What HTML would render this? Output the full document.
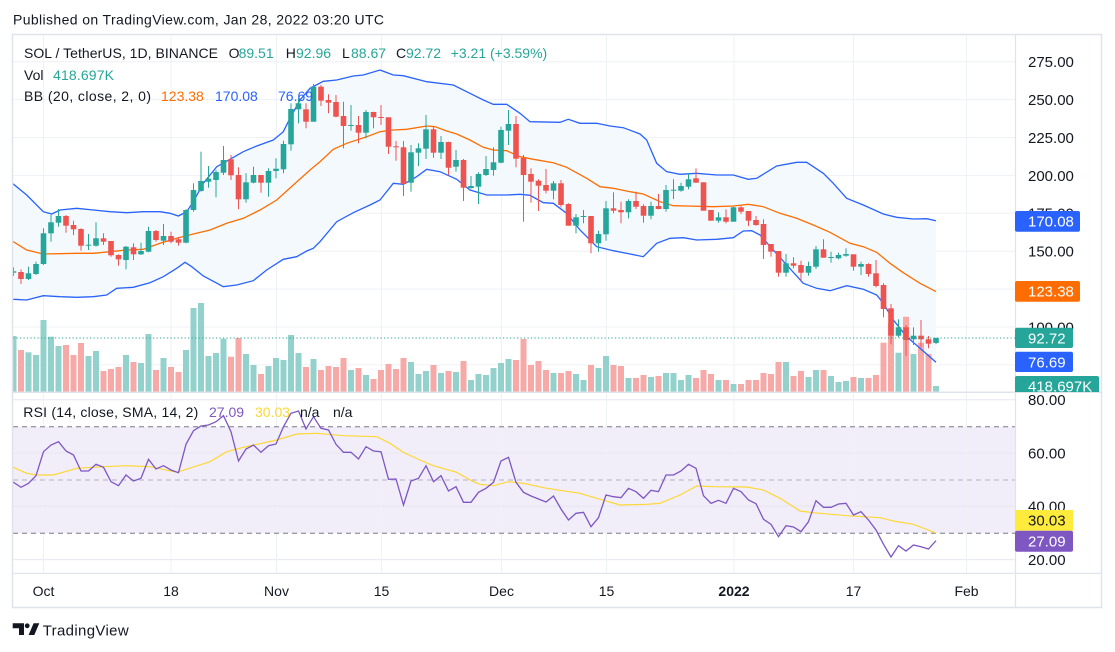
<!DOCTYPE html>
<html><head><meta charset="utf-8">
<style>
html,body{margin:0;padding:0;background:#fff;}
svg{display:block;font-family:"Liberation Sans","DejaVu Sans",sans-serif;}
</style></head>
<body>
<svg id="s" width="1115" height="652" viewBox="0 0 1115 652" xmlns="http://www.w3.org/2000/svg">
<defs>
<clipPath id="cp"><rect x="13" y="35" width="1002" height="357"/></clipPath>
<clipPath id="cr"><rect x="13" y="393" width="1002" height="180"/></clipPath>
</defs>
<rect width="1115" height="652" fill="#fff"/>
<text x="13" y="24.5" font-size="14" fill="#131722" textLength="371">Published on TradingView.com, Jan 28, 2022 03:20 UTC</text>

<g stroke="#EEF1F6" stroke-width="1">
<line x1="13" x2="1015" y1="61.7" y2="61.7"/><line x1="13" x2="1015" y1="99.6" y2="99.6"/>
<line x1="13" x2="1015" y1="137.5" y2="137.5"/><line x1="13" x2="1015" y1="175.4" y2="175.4"/>
<line x1="13" x2="1015" y1="213.3" y2="213.3"/><line x1="13" x2="1015" y1="251.2" y2="251.2"/>
<line x1="13" x2="1015" y1="289.1" y2="289.1"/><line x1="13" x2="1015" y1="327" y2="327"/>
<line x1="13" x2="1015" y1="364.9" y2="364.9"/>
</g>
<rect x="13" y="426.7" width="1002" height="106.6" fill="#F1EDF9"/>
<g stroke="#E8E6F0" stroke-width="1">
<line x1="13" x2="1015" y1="399.7" y2="399.7"/><line x1="13" x2="1015" y1="453" y2="453"/>
<line x1="13" x2="1015" y1="506.3" y2="506.3"/><line x1="13" x2="1015" y1="559.6" y2="559.6"/>
</g>
<g stroke="#EEF1F6" stroke-width="1">
<line x1="43.5" x2="43.5" y1="35" y2="573"/><line x1="171" x2="171" y1="35" y2="573"/>
<line x1="276.5" x2="276.5" y1="35" y2="573"/><line x1="381.5" x2="381.5" y1="35" y2="573"/>
<line x1="501.5" x2="501.5" y1="35" y2="573"/><line x1="606.5" x2="606.5" y1="35" y2="573"/>
<line x1="734" x2="734" y1="35" y2="573"/><line x1="853.5" x2="853.5" y1="35" y2="573"/>
<line x1="966.5" x2="966.5" y1="35" y2="573"/>
</g>
<g stroke="#787B86" stroke-width="1" stroke-dasharray="5 4">
<line x1="13" x2="1015" y1="426.7" y2="426.7"/>
<line x1="13" x2="1015" y1="533.3" y2="533.3"/>
<line x1="13" x2="1015" y1="480" y2="480" stroke-opacity="0.5"/>
</g>

<g id="price" clip-path="url(#cp)"></g>
<g id="rsi" clip-path="url(#cr)"></g>

<rect x="12.5" y="34.5" width="1089" height="573" fill="none" stroke="#E0E3EB" stroke-width="1.5"/>
<line x1="1015.5" x2="1015.5" y1="34.5" y2="607.5" stroke="#E0E3EB" stroke-width="1.2"/>
<line x1="12.5" x2="1101.5" y1="392.3" y2="392.3" stroke="#E0E3EB" stroke-width="1.5"/>
<line x1="12.5" x2="1101.5" y1="573.3" y2="573.3" stroke="#E0E3EB" stroke-width="1.2"/>

<g font-size="14" fill="#131722">
<text x="24" y="58" textLength="194">SOL / TetherUS, 1D, BINANCE</text>
<text x="228.6" y="58">O</text><text x="238.6" y="58" fill="#26A69A">89.51</text>
<text x="285.7" y="58">H</text><text x="296" y="58" fill="#26A69A">92.96</text>
<text x="342" y="58">L</text><text x="351" y="58" fill="#26A69A">88.67</text>
<text x="396" y="58">C</text><text x="406" y="58" fill="#26A69A">92.72</text>
<text x="450.7" y="58" fill="#26A69A" textLength="96.5">+3.21 (+3.59%)</text>
<text x="24" y="80">Vol</text><text x="53" y="80" fill="#26A69A" textLength="61">418.697K</text>
<text x="24" y="101" textLength="127">BB (20, close, 2, 0)</text>
<text x="161" y="101" fill="#FF6D00">123.38</text>
<text x="215" y="101" fill="#2962FF">170.08</text>
<text x="278" y="101" fill="#2962FF">76.69</text>
<text x="23.3" y="417" textLength="175">RSI (14, close, SMA, 14, 2)</text>
<text x="209" y="417" fill="#7E57C2">27.09</text>
<text x="255" y="417" fill="#FDD835">30.03</text>
<text x="300" y="417">n/a</text>
<text x="333" y="417">n/a</text>
</g>

<g font-size="15" fill="#131722">
<text x="1028" y="67.1">275.00</text>
<text x="1028" y="105">250.00</text>
<text x="1028" y="142.9">225.00</text>
<text x="1028" y="180.8">200.00</text>
<text x="1028" y="218.7">175.00</text>
<text x="1028" y="256.6">150.00</text>
<text x="1028" y="332.4">100.00</text>
<text x="1028" y="405.1">80.00</text>
<text x="1028" y="458.4">60.00</text>
<text x="1028" y="511.7">40.00</text>
<text x="1028" y="565">20.00</text>
</g>
<g font-size="15">
<rect x="1015" y="211" width="65" height="20.7" rx="2" fill="#2962FF"/>
<text x="1028" y="226.7" fill="#fff">170.08</text>
<rect x="1015" y="281" width="65" height="20.7" rx="2" fill="#FF6D00"/>
<text x="1028" y="296.7" fill="#fff">123.38</text>
<rect x="1015" y="327.7" width="58" height="20.3" rx="2" fill="#26A69A"/>
<text x="1028" y="343.3" fill="#fff">92.72</text>
<rect x="1015" y="351.7" width="58" height="20.3" rx="2" fill="#2962FF"/>
<text x="1028" y="367.3" fill="#fff">76.69</text>
<svg x="1015" y="376" width="86" height="16" overflow="hidden">
<rect x="0" y="0" width="84" height="24" rx="2" fill="#26A69A"/>
<text x="13" y="15.3" fill="#fff">418.697K</text>
</svg>
<rect x="1015" y="510" width="58" height="20.7" fill="#FFEB3B"/>
<text x="1028" y="525.7" fill="#131722">30.03</text>
<rect x="1015" y="530.7" width="58" height="21" rx="2" fill="#7E57C2"/>
<text x="1028" y="546.5" fill="#fff">27.09</text>
</g>

<g font-size="14" fill="#131722" text-anchor="middle">
<text x="43.5" y="596">Oct</text>
<text x="171" y="596">18</text>
<text x="276.5" y="596">Nov</text>
<text x="381.5" y="596">15</text>
<text x="501.5" y="596">Dec</text>
<text x="606.5" y="596">15</text>
<text x="734" y="596" font-weight="bold">2022</text>
<text x="853.5" y="596">17</text>
<text x="966.5" y="596">Feb</text>
</g>

<g fill="#131722">
<path d="M12.7 623.3 H24 V635 H19 V628.3 H12.7 Z"/>
<circle cx="27.2" cy="625.8" r="2.4"/>
<path d="M28.6 635 L33.6 623.3 H39.3 L34.3 635 Z"/>
<text x="42.7" y="635.5" font-size="15" textLength="86">TradingView</text>
</g>
</svg>
<script>
(function(){
var NS="http://www.w3.org/2000/svg";
function X(d){return 43.5+7.5*d;}
var C=[
[1,271.3,272.7,267.3,276],[0,272,279,269.3,284],[1,273.3,279,266.7,280],[1,264,274,261.7,275],
[1,233.3,264,228.3,265],[1,222.3,233.3,215,241.7],[1,216,222.7,209,226.7],[0,216,225.7,215,232.7],[0,225,229.3,220.7,235],
[0,229,245.7,228.3,250.7],[1,244.7,245.7,234,250],[1,238.3,245.7,222.3,246.7],[0,238.3,241.7,233.3,245],[0,241,255.3,241,256.7],
[0,255,259.3,254.3,265.7],[1,246.7,260,246,269.3],[0,247.3,254.3,243.3,260],[1,251,254.3,242.7,255],[1,231,251.7,226.7,252.3],
[0,231,240,230,241.7],[1,236,240.7,224,245],[0,236,241.7,231.7,243.3],[0,239.3,242.7,237.3,245.7],[1,210,242.7,209.3,243.3],
[1,190,210,183.3,211.7],[1,181,191,151.7,191.7],[1,178.7,181.7,166,187.7],[1,172,180,170,197.3],[1,160,172.7,146,175],
[0,159.3,175.3,155,180],[0,175,199.3,167.3,209.3],[1,182.3,199.3,173.3,202.7],[1,175,182.7,166.7,183.3],[0,175,182.7,175,192.7],
[1,171,182.7,168.3,196.7],[1,168.7,171,158.3,178.3],[1,144,169.3,140.7,173.3],[1,109,144.3,103.3,150.7],[1,103.3,109.3,98.3,123.3],
[0,109.3,121.7,103.3,128.3],[1,86.7,121.7,84,121.7],[0,86.7,100.7,85,106],[0,100,102.7,94.3,113.3],[0,102,116.7,95,117.3],
[0,116,126,101.7,148.3],[1,125,125.7,105,130.7],[0,125,132.7,116,143.3],[1,112,132.7,110,138.3],[0,112,117.3,111.7,128.3],
[0,117,117.7,105,125],[0,117.3,146.7,117.3,154],[0,146.3,147,141,160.7],[0,147.3,184,141,196],[1,152.3,182.7,145,191.7],
[1,148.3,152.7,143.3,166],[1,129.3,148.7,115,159],[0,129.3,152.7,126.7,157.7],[1,142,152.7,136,159],[0,142,167.7,141.7,175],
[1,160,166.7,150,171.7],[0,160,187.7,159,201],[1,186,188,176,188.7],[1,174,186.7,172.3,204],[1,169,175,156,176],
[1,162.3,170,147.3,175.7],[1,130,162.7,126.7,163.3],[1,124,130.7,110,145],[0,124,158.7,116,167.3],[0,158,175,155,221.7],
[0,174,181.7,168.3,202.7],[0,180.7,185.7,179.3,211],[0,185,190.7,169,193.3],[1,183.3,190.7,181,199.3],[0,183.3,205,180,207.3],
[0,204,225.7,203.3,225.7],[1,217.3,225.7,214,233.3],[1,216,217,210,223.3],[0,216,243.3,216,253.3],[1,234,243.3,230.7,251.7],
[1,208.3,234.3,201,240.7],[0,208.3,210.7,192.3,213.3],[0,210,212.3,201.7,223.3],[1,201,212.3,199.3,218.3],[0,201,206.7,191.7,209],
[0,206,215.7,204.3,222.7],[1,206,215.7,201.7,219.3],[0,206,209,194,209.3],[1,190,209,185,211.7],[1,189.7,190.3,179.3,199],
[1,186,190.7,182.7,191.7],[1,179.3,186.7,173.3,189.3],[0,178.3,182.7,168.3,182.7],[0,182.3,210.7,182.3,210.7],[0,210,220.7,210,220.7],
[1,217.3,220.7,212.3,222.7],[0,217.3,221.7,209.3,223.3],[1,207.3,221.7,206.7,221.7],[0,207.3,211.7,206,214],[0,211,220.7,211,226],
[0,220,225,216,225.7],[0,224,245,219.3,259],[0,244,251.7,244,256.7],[0,251,272.7,251,276.7],[1,263.3,272.7,254,276.7],
[0,263.3,265.7,257.3,268.3],[0,265,272.7,260.7,280.7],[1,266,272.7,261.7,275.7],[1,249.3,266.7,246,269],[0,249.3,257.7,239.3,257.7],
[1,257,257.7,251.7,262.7],[1,255,258.3,252.7,259.3],[1,254,255.7,248.3,256.7],[0,254.3,266.7,254.3,270.7],[1,264,266.7,261.7,275],
[0,264,274,263.3,276.7],[0,273.3,286,260,287.3],[0,285,309,283.3,317.3],[0,308.3,335.7,304,344.3],[1,327.3,335.7,319.3,337.3],
[0,327.3,340,325,356],[1,335.7,339.3,327.3,345],[0,335.7,339.3,320,347.3],[0,339.3,343.7,336,348.3],[1,338,342.9,337.7,344.2]
];
var V=[336,350,352.3,355,320,336.7,346,345,355,343,356,351,371,369,367,355,362,363,334,370,358,367,372,350,308,303,356,353,338.7,356.7,338,354,365,374,366,358,360,335,353,367,359,370,366,367,358,370,368,375,379,370,364,369,358,362,374,371,365,373,371,372,361,380,374,375,368,363,359,360,339,365,361,370,373,373,371,374,380,365,368,356,365,366,378,378,375,377,376,373,373,380,375,378,370,374,380,380,384,384,380,380,373,374,362,362,376,371,377,370,370,376,382,381,377,378,378,375,342.7,323.3,352.7,316.7,354,342.7,354,386];
var R=[482.3,487.3,483.3,475.7,451.7,445,441.7,451,455,471,471,464.3,467.3,481.7,485.7,475,481,478.3,459.3,469,465.7,470,472.7,444.3,430.7,426,425,421.7,415.7,431.7,461,449,445,452.3,445.7,444,426.7,413.3,411,429,416.7,428.3,430,444.3,452.3,452.3,459,446.7,451,451.7,479.3,479,505,481,478.3,465.7,481.7,475.7,491,486.7,502.3,502.3,492.3,488.3,482.3,461,457.3,482.3,492.3,496,499,502,496,509,520,513.3,512.3,526.7,517.7,495,496.7,497.7,488.3,491.7,498.3,490.3,491.7,475,475,471,464.3,468.3,495.7,503.3,500.3,503.3,488.3,491.7,500,503.7,519.3,524.3,536.7,525.7,527,531.7,521.7,500.7,507.3,507.3,504,503.3,515,511.7,520,530,544.3,557,545.7,551,545,546.7,549,540.7];
var UP=[[12,183],[13.3,184],[26.7,195],[43.3,211.7],[51.7,214],[60,210],[76.7,208.3],[93.3,210],[110,211.7],[126.7,212.7],[143.3,211.7],[160,211.7],[170,213.3],[178.3,216],[186.7,211.7],[193.3,201.7],[203.3,183.3],[216.7,166.7],[230,159.3],[243.3,151.7],[256.7,146],[273.3,140],[283.3,131.7],[290,118.3],[300,100],[310,88.3],[323.3,81.3],[336.7,80],[353.3,76],[363.3,75],[380,70],[393.3,75],[403.3,75.7],[426.7,81.7],[453.3,85],[470,93.3],[483.3,100],[493.3,104.3],[506.7,104.3],[520,113.3],[530,121.7],[560,122.3],[568.3,119.3],[580,123.3],[596.7,123.3],[610,126],[623.3,127.7],[640,134],[646.7,140],[656.7,163.3],[666.7,171.7],[680,174.3],[696.7,173.3],[716.7,175],[733.3,175],[748.3,179.3],[756.7,178.3],[776.7,166],[796.7,162.3],[806.7,162.3],[823.3,173.3],[833.3,183.3],[846.7,198.3],[863.3,205],[883.3,214],[896.7,217.3],[913.3,219],[926.7,218.7],[936,220.8]];
var MID=[[12,241],[13.3,241.7],[26.7,250],[43.3,254],[76.7,253.3],[93.3,253.3],[110,251.7],[126.7,250],[143.3,249.3],[160,243.3],[176.7,238.3],[193.3,234],[210,230],[226.7,223.3],[243.3,218.3],[260,210],[276.7,200],[293.3,185],[310,170],[320,161.7],[333.3,149.3],[346.7,143.3],[366.7,136.7],[380,131.7],[393.3,130],[406.7,129.3],[426.7,126],[435,126.7],[446.7,131],[456.7,134],[470,140],[483.3,147.3],[493.3,150],[506.7,150.7],[520,156.7],[533.3,159.3],[553.3,162.7],[566.7,167.3],[586.7,178.3],[600,186.7],[613.3,188.3],[630,191.7],[643.3,194],[660,201.7],[673.3,205.7],[686.7,206],[713.3,206.7],[733.3,206],[748.3,204.3],[763.3,206.7],[780,213.3],[796.7,218.3],[813.3,225],[830,232.3],[850,243.3],[863.3,246.7],[876.7,252.3],[890,263.3],[903.3,272.7],[920,283.3],[936,291.6]];
var LO=[[12,299],[13.3,299.3],[26.7,300],[43.3,295.7],[60,296.7],[76.7,297.3],[93.3,296.7],[106.7,295],[116.7,288.3],[133.3,287.3],[150,282.7],[163.3,276.7],[176.7,268.3],[185,262.3],[191.7,266.7],[203.3,276],[223.3,286.7],[236.7,285],[253.3,280.7],[266.7,270],[283.3,259.3],[296.7,256.7],[306.7,251],[313.3,248.3],[320,241.7],[336.7,221.7],[353.3,212.7],[370,205],[380,200],[393.3,183.3],[403.3,184.3],[416.7,176.7],[426.7,169.3],[440,171.7],[456.7,179.3],[470,190],[486.7,195],[506.7,195],[520,194.3],[530,195.3],[543.3,202.7],[553.3,203.3],[566.7,213.3],[580,230],[596.7,246.7],[613.3,250.7],[630,254],[643.3,256.7],[656.7,243.3],[670,238.3],[683.3,237.7],[696.7,240],[716.7,239.3],[733.3,237.7],[743.3,231],[751.7,230.7],[760,235],[773.3,250],[786.7,265],[803.3,283.3],[816.7,288.3],[830,290.7],[846.7,285.7],[863.3,289.3],[876.7,295],[883.3,303.3],[893.3,320],[906.7,336.7],[920,348.3],[936,362.3]];
var MA=[[12,467],[13.3,467.3],[26.7,473.3],[36.7,475],[53.3,475],[76.7,468.3],[103.3,466.7],[126.7,465.7],[150,466.7],[176.7,472.3],[210,461.7],[226.7,451.7],[243.3,447.3],[276.7,440],[296.7,434],[316.7,433.3],[343.3,435.7],[376.7,436.7],[390,443.3],[403.3,452.3],[420,460],[433.3,465.7],[456.7,472.3],[473.3,481.7],[480,484.3],[493.3,485.7],[508.3,481.7],[523.3,483.3],[546.7,488.3],[580,493.3],[596.7,498.3],[620,505],[646.7,504.3],[660,503.3],[680,495],[696.7,486],[713.3,486.7],[746.7,487],[763.3,490],[780,498.3],[800,511],[813.3,512.7],[846.7,515.7],[880,517.7],[893.3,521],[913.3,524.3],[936,533]];
function pts(a){return a.map(function(p){return p[0]+","+p[1];}).join(" ");}
function el(parent,tag,attrs){var e=document.createElementNS(NS,tag);for(var k in attrs){e.setAttribute(k,attrs[k]);}parent.appendChild(e);return e;}
var P=document.getElementById("price");
el(P,"polygon",{points:pts(UP)+" "+pts(LO.slice().reverse()),fill:"#F4F9FE"});
for(var i=0;i<V.length;i++){
  var x=X(i-4),c=C[i][0];
  el(P,"rect",{x:x-3,y:V[i],width:6,height:391.7-V[i],fill:(c?"#93D2CC":"#F7A9A7")});
}
el(P,"polyline",{points:pts(UP),fill:"none",stroke:"#2962FF","stroke-width":1.3});
el(P,"polyline",{points:pts(LO),fill:"none",stroke:"#2962FF","stroke-width":1.3});
el(P,"polyline",{points:pts(MID),fill:"none",stroke:"#FF6D00","stroke-width":1.3});
for(var j=0;j<C.length;j++){
  var xx=X(j-4),k=C[j],col=k[0]?"#26A69A":"#EF5350";
  var h=Math.max(1,k[2]-k[1]);
  el(P,"rect",{x:xx-0.5,y:k[3],width:1,height:k[4]-k[3],fill:col});
  el(P,"rect",{x:xx-2.8,y:k[1],width:5.6,height:h,fill:col});
}
el(P,"line",{x1:13,x2:1015,y1:338,y2:338,stroke:"#26A69A","stroke-width":1,"stroke-dasharray":"1.2 2.3"});
var Rg=document.getElementById("rsi");
var rp=[[12,482]];
for(var m=0;m<R.length;m++){rp.push([X(m-4),R[m]]);}
el(Rg,"polyline",{points:pts(MA),fill:"none",stroke:"#FDD835","stroke-width":1.2});
el(Rg,"polyline",{points:pts(rp),fill:"none",stroke:"#7E57C2","stroke-width":1.3});
})();
</script>
</body></html>
